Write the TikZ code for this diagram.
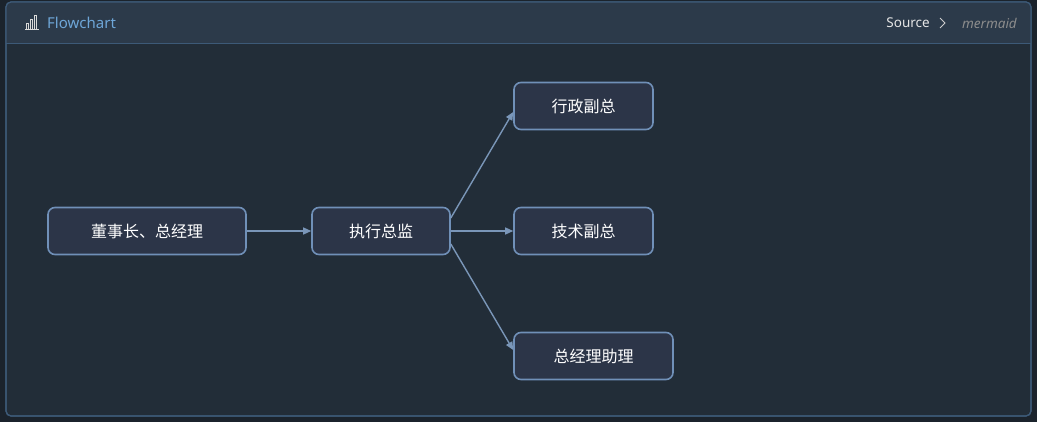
\documentclass[tikz,border=0pt]{standalone}
\usepackage{fontspec}
\setmainfont{Noto Sans}
\newfontfamily\cjk{Noto Sans CJK SC}
\usetikzlibrary{arrows.meta}
\definecolor{bg}{HTML}{1B232C}
\definecolor{body}{HTML}{222D38}
\definecolor{head}{HTML}{2C3A4A}
\definecolor{frame}{HTML}{3D5A78}
\definecolor{nfill}{HTML}{2C3548}
\definecolor{nbord}{HTML}{7090B8}
\definecolor{edge}{HTML}{7A96B8}
\definecolor{title}{HTML}{6EA6D8}
\begin{document}
\begin{tikzpicture}[x=1pt,y=-1pt,
  box/.style={draw=nbord,line width=1.6pt,fill=nfill,rounded corners=7pt,minimum height=47pt,text=white,font=\cjk\fontsize{16}{18}\selectfont,inner sep=0pt},
  arr/.style={draw=edge,line width=1.4pt,-{Triangle[length=8pt,width=7pt]}}]
\useasboundingbox (0,0) rectangle (1037,422);
\fill[bg] (0,0) rectangle (1037,422);
\fill[body,draw=frame,line width=1.2pt,rounded corners=5pt] (6,2) rectangle (1031,416);
\begin{scope}
\clip[rounded corners=5pt] (6,2) rectangle (1031,416);
\fill[head] (6,2) rectangle (1031,44);
\end{scope}
\draw[frame,line width=1pt] (6,44) -- (1031,44);
\draw[frame,line width=1.2pt,rounded corners=5pt] (6,2) rectangle (1031,416);
% icon
\draw[white!85!black,line width=1pt] (25,30) -- (39,30);
\draw[white!85!black,line width=1pt] (26,30) rectangle (28,24) (30,30) rectangle (32,20) (34,30) rectangle (36,16);
\node[anchor=west,text=title,font=\fontsize{15}{17}\selectfont,inner sep=0pt] (t) at (47,23) {Flowchart};
\node[anchor=east,text=white!90!black,font=\fontsize{13.5}{15}\selectfont,inner sep=0pt] (s) at (930,23) {Source};
\draw[white!80!black,line width=1pt] (940,18) -- (945,23) -- (940,28);
\node[anchor=east,text=white!55!black,font=\itshape\fontsize{13.5}{15}\selectfont,inner sep=0pt] (m) at (1017,23) {mermaid};
\node[box,minimum width=198pt] (A) at (147,231) {董事长、总经理};
\node[box,minimum width=138pt] (B) at (381,231) {执行总监};
\node[box,minimum width=139pt] (C) at (583.5,106) {行政副总};
\node[box,minimum width=139pt] (D) at (583.5,231) {技术副总};
\node[box,minimum width=159pt] (E) at (593.5,356) {总经理助理};
\draw[arr] (A) -- (B);
\draw[arr] (B) -- (D);
\draw[arr] ([yshift=13pt]B.east) -- ([yshift=-6pt]C.west);
\draw[arr] ([yshift=-13pt]B.east) -- ([yshift=6pt]E.west);
\end{tikzpicture}
\end{document}
